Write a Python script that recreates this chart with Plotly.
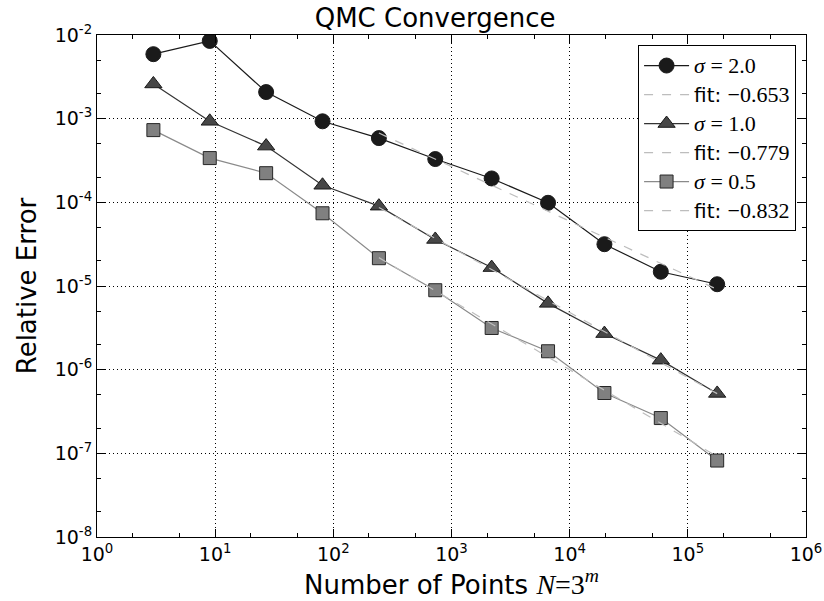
import numpy as np
import plotly.graph_objects as go

# Data
m_vals = [1, 2, 3, 4, 5, 6, 7, 8, 9, 10, 11]
n_points = [3 ** m for m in m_vals]
err_sigma2 = [5.9e-3, 8.5e-3, 2.08e-3, 9.3e-4, 5.86e-4, 3.29e-4, 1.93e-4, 9.87e-5, 3.16e-5, 1.48e-5, 1.05e-5]
err_sigma1 = [2.6e-3, 9.3e-4, 4.7e-4, 1.6e-4, 9.0e-5, 3.6e-5, 1.66e-5, 6.2e-6, 2.7e-6, 1.3e-6, 5.2e-7]
err_sigma05 = [7.3e-4, 3.38e-4, 2.23e-4, 7.4e-5, 2.15e-5, 8.9e-6, 3.15e-6, 1.66e-6, 5.26e-7, 2.64e-7, 8.2e-8]
fit_labels = ["−0.653", "−0.779", "−0.832"]
fit_start = 4  # index of first point used in fit (m=5)
x_exps = [0, 1, 2, 3, 4, 5, 6]
y_exps = [-8, -7, -6, -5, -4, -3, -2]

SERIF = "Liberation Serif, DejaVu Serif, serif"
SANS = "DejaVu Sans, sans-serif"

def math(s, size=None):
    st = f"font-family:{SERIF}"
    if size:
        st += f";font-size:{size}px"
    return f'<span style="{st}">{s}</span>'

series = [
    ("2.0", err_sigma2, "circle", "#1a1a1a", "#1a1a1a", "#1a1a1a", fit_labels[0]),
    ("1.0", err_sigma1, "triangle-up", "#474747", "#1a1a1a", "#333333", fit_labels[1]),
    ("0.5", err_sigma05, "square", "#808080", "#262626", "#8a8a8a", fit_labels[2]),
]

fig = go.Figure()
for sig, err, sym, fill, edge, lcol, flab in series:
    fig.add_trace(go.Scatter(
        x=n_points, y=err, mode="lines+markers",
        name=math(f"<i>σ</i> = {sig}", 22),
        line=dict(color=lcol, width=1.2),
        marker=dict(symbol=sym, size=15 if sym != "square" else 13, color=fill,
                    line=dict(color=edge, width=1)),
    ))
    lx = np.log10(n_points[fit_start:])
    ly = np.log10(err[fit_start:])
    slope, icpt = np.polyfit(lx, ly, 1)
    xf = np.array(n_points[fit_start:], dtype=float)
    yf = 10 ** (icpt + slope * np.log10(xf))
    fig.add_trace(go.Scatter(
        x=xf, y=yf, mode="lines",
        name="fit: " + math(flab, 22),
        line=dict(color="#bdbdbd", width=1.2, dash="dash"),
    ))

axis_common = dict(
    type="log", showline=True, linecolor="black", linewidth=1.2, mirror="allticks",
    ticks="inside", ticklen=8, tickwidth=1, tickcolor="black",
    showgrid=True, gridcolor="black", griddash="1px,3px", gridwidth=1,
    zeroline=False, automargin=False,
    tickfont=dict(family=SANS, size=19, color="black"),
    minor=dict(ticks="inside", ticklen=4, tickcolor="black", showgrid=False),
)

fig.update_layout(
    width=824, height=601,
    margin=dict(l=97, r=18, t=35, b=64),
    paper_bgcolor="white", plot_bgcolor="white",
    font=dict(family=SANS, color="black"),
    title=dict(text="QMC Convergence", x=0.528, xanchor="center", y=0.97, yanchor="middle",
               font=dict(family=SANS, size=26, color="black")),
    xaxis=dict(range=[0, 6],
               tickvals=[10 ** e for e in x_exps],
               ticktext=[f"10<sup>{e}</sup>" for e in x_exps],
               title=dict(text="Number of Points " + math("<i>N</i>=3<sup><i>m</i></sup>", 28),
                          font=dict(family=SANS, size=26), standoff=2),
               **axis_common),
    yaxis=dict(range=[-8, -2],
               tickvals=[10 ** e for e in y_exps],
               ticktext=[f"10<sup>{e}</sup>" for e in y_exps],
               title=dict(text="Relative Error", font=dict(family=SANS, size=26), standoff=10),
               **axis_common),
    legend=dict(x=0.986, y=0.98, xanchor="right", yanchor="top",
                bgcolor="white", bordercolor="black", borderwidth=1,
                font=dict(family=SANS, size=20, color="black"),
                tracegroupgap=0, itemwidth=45),
    showlegend=True,
)

fig.write_html("out.html", config={"displayModeBar": False},
               post_script="document.body.style.margin='0';document.body.style.padding='0';")
